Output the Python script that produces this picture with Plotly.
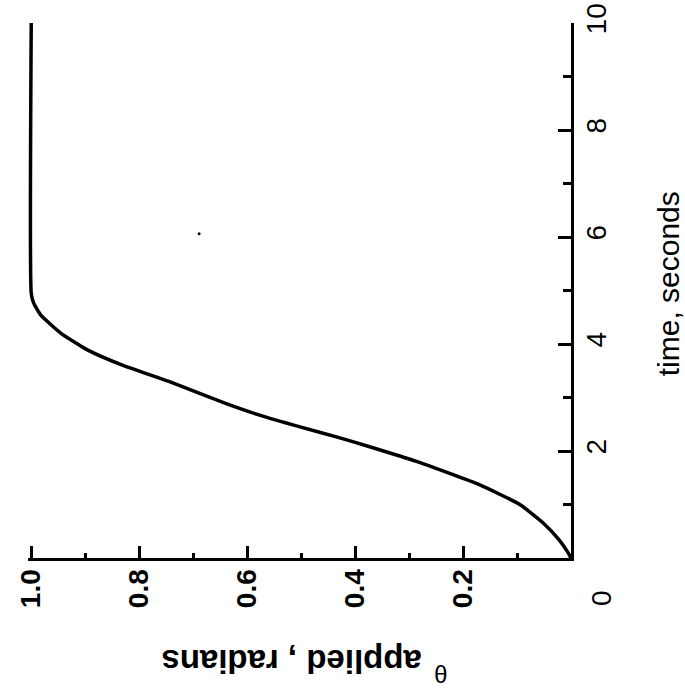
import plotly.graph_objects as go

# applied angle profile
time_s = [0, 0.11, 0.34, 0.66, 1.0, 1.38, 1.81, 2.07, 2.26, 2.45, 2.66, 2.89,
          3.30, 3.60, 3.89, 4.21, 4.55, 4.78, 4.95, 10.0]
theta_rad = [0, 0.006, 0.022, 0.052, 0.095, 0.172, 0.288, 0.37, 0.433, 0.502, 0.574, 0.64,
             0.745, 0.83, 0.896, 0.946, 0.983, 0.996, 1.0, 1.0]

# small speck in the scan
speck_theta = [0.689]
speck_time = [6.06]

theta_ticks = [1.0, 0.8, 0.6, 0.4, 0.2]
theta_labels = ["1.0", "0.8", "0.6", "0.4", "0.2"]
time_ticks = [2, 4, 6, 8, 10]
time_labels = ["2", "4", "6", "8", "10"]

FONT = "Liberation Sans, Arial, sans-serif"

fig = go.Figure()
fig.add_trace(go.Scatter(x=theta_rad, y=time_s, mode="lines",
                         line=dict(color="black", width=3.5, shape="spline", smoothing=0.5)))
fig.add_trace(go.Scatter(x=speck_theta, y=speck_time, mode="markers",
                         marker=dict(color="black", size=3)))

fig.update_xaxes(range=[1.006, 0], automargin=False, showline=True, linecolor="black", linewidth=3,
                 showgrid=False, zeroline=False, ticks="inside", ticklen=12, tickwidth=2.5,
                 tickcolor="black", tickvals=theta_ticks, ticktext=theta_labels, tickangle=-90,
                 tickfont=dict(family=FONT, size=28, color="black", weight="bold"),
                 minor=dict(ticks="inside", ticklen=5, tickwidth=2.5, tickcolor="black", dtick=0.1),
                 ticklabelstandoff=-3)
fig.update_yaxes(range=[0, 10], automargin=False, side="right", showline=True, linecolor="black",
                 linewidth=3, showgrid=False, zeroline=False, ticks="inside", ticklen=13,
                 tickwidth=2.5, tickcolor="black", tickvals=time_ticks, ticktext=time_labels,
                 tickangle=-90, tickfont=dict(family=FONT, size=28, color="black"),
                 minor=dict(ticks="inside", ticklen=8, tickwidth=2.5, tickcolor="black", dtick=1),
                 ticklabelstandoff=-2)

# corner zero, and the axis titles (the scan is turned on its side)
fig.add_annotation(text="0", xref="paper", yref="paper", x=1.055, y=-0.075,
                   xanchor="center", yanchor="middle", showarrow=False,
                   textangle=-90, font=dict(family=FONT, size=28, color="black"))
fig.add_annotation(text="time, seconds", xref="paper", yref="paper", x=1.179, y=0.512,
                   xanchor="center", yanchor="middle", showarrow=False, textangle=-90,
                   font=dict(family=FONT, size=30, color="black"))
fig.add_annotation(text="applied , radians", xref="paper", yref="paper", x=0.486, y=-0.193,
                   xanchor="center", yanchor="middle", showarrow=False, textangle=180,
                   font=dict(family=FONT, size=33, color="black", weight="bold"))
fig.add_annotation(text="θ", xref="paper", yref="paper", x=0.761, y=-0.217,
                   xanchor="center", yanchor="middle", showarrow=False, textangle=180,
                   font=dict(family=FONT, size=24, color="black"))

fig.update_layout(width=685, height=694, showlegend=False,
                  margin=dict(l=28, r=114, t=23, b=136),
                  plot_bgcolor="white", paper_bgcolor="white")

# drop the page's default body margin so the figure sits at the window's corner
fig.write_html("out.html", config={"displayModeBar": False},
               post_script="document.body.style.margin='0';")
